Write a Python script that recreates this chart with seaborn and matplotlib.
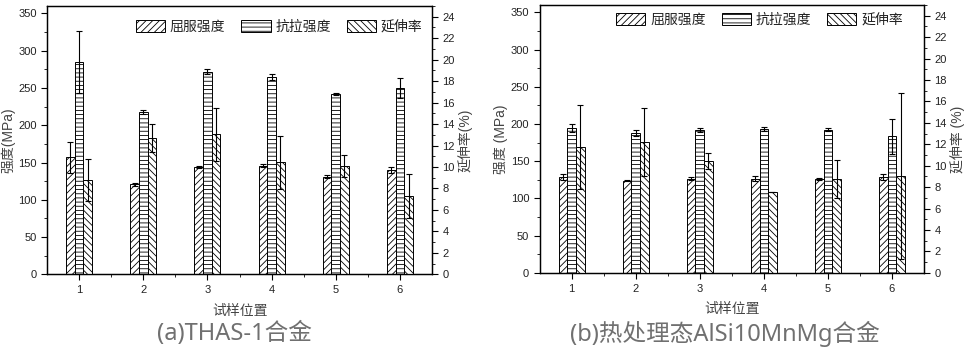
import numpy as np
import pandas as pd
import matplotlib
matplotlib.use("Agg")
import matplotlib.pyplot as plt
import seaborn as sns
from matplotlib.patches import Patch
from matplotlib.ticker import MultipleLocator, FixedLocator

# ---------------- data ----------------
positions = ["1", "2", "3", "4", "5", "6"]
metrics = ["屈服强度", "抗拉强度", "延伸率"]

a_yield = [157, 121, 144, 146, 131, 140]
a_yield_err = [21, 2, 1.5, 2, 2, 4]
a_tensile = [285, 218, 272, 265, 242, 250]
a_tensile_err = [42, 2.5, 3, 4, 1.5, 13.5]
a_elong = [8.76, 12.67, 13.05, 10.44, 10.09, 7.27]
a_elong_err = [1.95, 1.3, 2.45, 2.45, 1.05, 2.05]

b_yield = [128.7, 124.1, 126.4, 126.8, 126.4, 128.7]
b_yield_err = [4, 1, 2, 3, 1, 4.5]
b_tensile = [194.5, 187.8, 191.8, 193.6, 192.3, 183.3]
b_tensile_err = [5.5, 4.5, 3, 2.5, 2, 24]
b_elong = [11.75, 12.22, 10.42, 7.53, 8.74, 9.02]
b_elong_err = [3.95, 3.15, 0.75, 0.0, 1.77, 7.75]

captions = ["(a)THAS-1合金", "(b)热处理态AlSi10MnMg合金"]

# ---------------- style ----------------
sns.set_style("ticks")
plt.rcParams["font.family"] = ["Liberation Sans", "Noto Sans CJK SC", "DejaVu Sans"]
plt.rcParams["hatch.linewidth"] = 0.6
plt.rcParams["axes.unicode_minus"] = False

key_colors = {"屈服强度": "#010000", "抗拉强度": "#000100", "延伸率": "#000001"}
hatches = {"屈服强度": "/////", "抗拉强度": "----", "延伸率": "\\\\\\\\\\"}

fig = plt.figure(figsize=(9.64, 3.54), dpi=100)
ax_a = fig.add_axes([0.0488, 0.225, 0.3994, 0.758])
ax_b = fig.add_axes([0.5598, 0.229, 0.3987, 0.757])

text_col = "#222222"
label_col = "#444444"


def style_bars(ax):
    out = {m: [] for m in metrics}
    inv = {matplotlib.colors.to_hex(c): m for m, c in key_colors.items()}
    for p in ax.patches:
        fc = matplotlib.colors.to_hex(p.get_facecolor())
        if fc in inv:
            m = inv[fc]
            p.set_facecolor("white")
            p.set_edgecolor("black")
            p.set_linewidth(0.7)
            p.set_hatch(hatches[m])
            out[m].append(p)
    return out


def draw_panel(ax, yv, ye, tv, te, ev, ee, ylab, y2lab, leg_xy):
    df_s = pd.DataFrame({
        "位置": positions * 2,
        "metric": [metrics[0]] * 6 + [metrics[1]] * 6,
        "val": list(yv) + list(tv),
    })
    df_e = pd.DataFrame({"位置": positions, "metric": [metrics[2]] * 6, "val": list(ev)})

    sns.barplot(data=df_s, x="位置", y="val", hue="metric", hue_order=metrics,
                order=positions, palette=key_colors, width=0.405, saturation=1,
                dodge=True, errorbar=None, legend=False, ax=ax)
    ax2 = ax.twinx()
    sns.barplot(data=df_e, x="位置", y="val", hue="metric", hue_order=metrics,
                order=positions, palette=key_colors, width=0.405, saturation=1,
                dodge=True, errorbar=None, legend=False, ax=ax2)

    bars1 = style_bars(ax)
    bars2 = style_bars(ax2)

    def add_err(axx, patches, err):
        patches = sorted(patches, key=lambda p: p.get_x())
        xs = [p.get_x() + p.get_width() / 2 for p in patches]
        hs = [p.get_height() for p in patches]
        axx.errorbar(xs, hs, yerr=err, fmt="none", ecolor="black",
                     elinewidth=0.8, capsize=2.5, capthick=0.8, zorder=5)

    add_err(ax, bars1[metrics[0]], ye)
    add_err(ax, bars1[metrics[1]], te)
    add_err(ax2, bars2[metrics[2]], ee)

    ax.set_xlim(-0.5, 5.5)
    ax.set_ylim(0, 360)
    ax2.set_ylim(0, 25)
    ax.yaxis.set_major_locator(FixedLocator(np.arange(0, 351, 50)))
    ax.yaxis.set_minor_locator(MultipleLocator(25))
    ax2.yaxis.set_major_locator(FixedLocator(np.arange(0, 25, 2)))
    ax2.yaxis.set_minor_locator(MultipleLocator(1))
    ax.xaxis.set_minor_locator(FixedLocator(np.arange(0.5, 5, 1.0)))

    for a in (ax, ax2):
        a.tick_params(axis="both", which="major", direction="out", length=4,
                      width=0.8, labelsize=8, colors="black", labelcolor=text_col)
        a.tick_params(axis="both", which="minor", direction="out", length=2, width=0.7)
        for s in a.spines.values():
            s.set_visible(True)
            s.set_linewidth(0.9)
            s.set_color("black")
    ax.tick_params(axis="x", which="major", pad=4)
    ax.set_xlabel("试样位置", fontsize=10, color=label_col, labelpad=6)
    ax.set_ylabel(ylab, fontsize=10, color=label_col, labelpad=2)
    ax2.set_ylabel(y2lab, fontsize=10, color=label_col, labelpad=2)
    ax2.set_xlabel("")

    handles = [Patch(facecolor="white", edgecolor="black", hatch=hatches[m], linewidth=0.7)
               for m in metrics]
    ax.legend(handles, metrics, ncol=3, loc="center", bbox_to_anchor=leg_xy,
              frameon=False, fontsize=10, handlelength=2.1, handleheight=1.0,
              handletextpad=0.35, columnspacing=1.15, borderpad=0,
              labelcolor=text_col)
    ax2.set_zorder(ax.get_zorder() + 1)
    ax.patch.set_visible(True)
    ax2.patch.set_visible(False)
    return ax2


draw_panel(ax_a, a_yield, a_yield_err, a_tensile, a_tensile_err, a_elong, a_elong_err,
           "强度(MPa)", "延伸率(%)", (0.603, 0.922))
draw_panel(ax_b, b_yield, b_yield_err, b_tensile, b_tensile_err, b_elong, b_elong_err,
           "强度 (MPa)", "延伸率 (%)", (0.572, 0.944))

cap_font = ["Noto Sans", "Noto Sans CJK SC"]
fig.text(234 / 964, 1 - 334 / 354, captions[0], ha="center", va="center",
         fontsize=17, color="#707070", family=cap_font)
fig.text(725 / 964, 1 - 334 / 354, captions[1], ha="center", va="center",
         fontsize=17, color="#707070", family=cap_font)

fig.savefig("out.png", dpi=100)
